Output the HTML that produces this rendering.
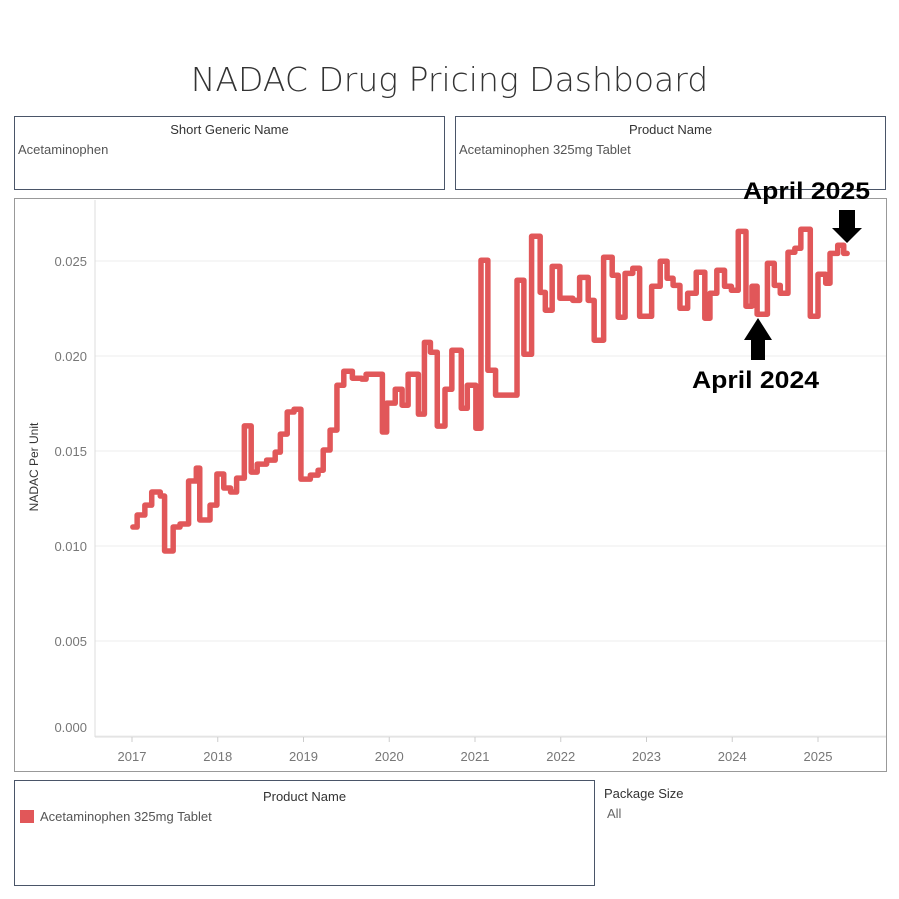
<!DOCTYPE html>
<html><head><meta charset="utf-8"><style>
body{margin:0;background:#fff;font-family:"Liberation Sans",sans-serif;}
.box{position:absolute;border:1px solid #4a5568;box-sizing:border-box;background:#fff}
.lbl{position:absolute;font-size:13px;color:#333}
</style></head><body>
<div style="position:relative;width:899px;height:899px;overflow:hidden">
<div style="position:absolute;left:0;width:899px;top:60px;text-align:center;font-size:33px;color:#333;font-family:'DejaVu Sans',sans-serif;font-weight:300;">NADAC Drug Pricing Dashboard</div>
<div class="box" style="left:14px;top:116px;width:431px;height:74px">
<div style="text-align:center;font-size:13px;color:#333;margin-top:5px">Short Generic Name</div>
<div style="font-size:13px;color:#555;margin:5px 0 0 3px">Acetaminophen</div></div>
<div class="box" style="left:455px;top:116px;width:431px;height:74px">
<div style="text-align:center;font-size:13px;color:#333;margin-top:5px">Product Name</div>
<div style="font-size:13px;color:#555;margin:5px 0 0 3px">Acetaminophen 325mg Tablet</div></div>
<div class="box" style="left:14px;top:198px;width:873px;height:574px;border-color:#999"></div>
<svg id="chart" width="899" height="899" style="position:absolute;left:0;top:0"></svg>
<div class="box" style="left:14px;top:780px;width:581px;height:106px">
<div style="text-align:center;font-size:13px;color:#333;margin-top:8px">Product Name</div>
<div style="position:absolute;left:5px;top:28px;font-size:13px;color:#555"><span style="display:inline-block;width:14px;height:13px;background:#e15759;vertical-align:-2px;margin-right:6px"></span>Acetaminophen 325mg Tablet</div></div>
<div class="lbl" style="left:604px;top:786px">Package Size</div>
<div class="lbl" style="left:607px;top:806px;color:#666">All</div>
</div>
<script>
const dates=[2017.01,2017.06,2017.15,2017.23,2017.33,2017.38,2017.48,2017.56,2017.66,2017.75,2017.79,2017.91,2017.99,2018.07,2018.15,2018.22,2018.31,2018.39,2018.46,2018.57,2018.67,2018.73,2018.81,2018.89,2018.97,2019.08,2019.17,2019.23,2019.31,2019.39,2019.47,2019.57,2019.68,2019.73,2019.92,2019.97,2020.07,2020.15,2020.22,2020.34,2020.41,2020.48,2020.56,2020.65,2020.73,2020.84,2020.91,2021.01,2021.07,2021.15,2021.24,2021.49,2021.57,2021.66,2021.76,2021.82,2021.90,2021.99,2022.14,2022.22,2022.32,2022.39,2022.50,2022.60,2022.67,2022.75,2022.84,2022.92,2023.06,2023.16,2023.24,2023.31,2023.39,2023.48,2023.58,2023.68,2023.74,2023.82,2023.91,2023.99,2024.07,2024.16,2024.23,2024.29,2024.41,2024.49,2024.56,2024.65,2024.73,2024.80,2024.91,2025.00,2025.09,2025.14,2025.23,2025.30,2025.34];
const values=[0.0110,0.01163,0.01215,0.01284,0.01263,0.00974,0.0110,0.01116,0.01342,0.0141,0.01137,0.01215,0.01379,0.01305,0.01284,0.01357,0.01632,0.01389,0.01431,0.01452,0.01494,0.01589,0.01705,0.0172,0.01352,0.01373,0.01399,0.01505,0.0161,0.01846,0.0192,0.01883,0.01878,0.01904,0.0160,0.01752,0.01825,0.01741,0.01904,0.01694,0.02072,0.0202,0.01631,0.01825,0.0203,0.01725,0.01846,0.0162,0.02504,0.01925,0.01794,0.02399,0.02009,0.0263,0.02335,0.02241,0.02472,0.02304,0.02293,0.02414,0.02293,0.02083,0.0252,0.02425,0.02204,0.02435,0.02462,0.02209,0.02367,0.02499,0.02409,0.02372,0.02251,0.0233,0.02441,0.02199,0.0233,0.02451,0.02367,0.02346,0.02656,0.02262,0.02367,0.0222,0.02488,0.02372,0.0233,0.02546,0.02567,0.02667,0.02209,0.0243,0.02383,0.0254,0.02583,0.0254,0.0254];
const yTicks=[0,0.005,0.010,0.015,0.020,0.025];
const yTickLabels=["0.000","0.005","0.010","0.015","0.020","0.025"];
const xTicks=[2017,2018,2019,2020,2021,2022,2023,2024,2025];
const NS="http://www.w3.org/2000/svg";
const svg=document.getElementById('chart');
const X=d=>132+(d-2017)*85.75;
const Y=v=>736-v/0.005*95;
function mk(t,a){const e=document.createElementNS(NS,t);for(const k in a)e.setAttribute(k,a[k]);svg.appendChild(e);return e;}
yTicks.forEach((t,i)=>{
 const g=mk('line',{x1:95,x2:886,y1:Y(t),y2:Y(t),stroke:'#ececec','stroke-width':1});
 
 
 const ty=i===0?Y(t)-4:Y(t)+5;
 const tx=mk('text',{x:87,y:ty,'text-anchor':'end','font-size':13,fill:'#777','font-family':'Liberation Sans, sans-serif'});
 tx.textContent=yTickLabels[i];
 
 
});
const ax=mk('line',{x1:95,x2:95,y1:200,y2:737,stroke:'#ddd'});


const xl=mk('line',{x1:95,x2:886,y1:737,y2:737,stroke:'#ddd'});


xTicks.forEach(t=>{
 const tk=mk('line',{x1:X(t),x2:X(t),y1:737,y2:742,stroke:'#ccc'});
 
 
 const tx=mk('text',{x:X(t),y:761,'text-anchor':'middle','font-size':13,fill:'#777','font-family':'Liberation Sans, sans-serif'});
 tx.textContent=t;
 
 
});
const yt=mk('text',{x:38,y:467,'text-anchor':'middle','font-size':12,fill:'#333',transform:'rotate(-90 38 467)','font-family':'Liberation Sans, sans-serif'});
yt.textContent='NADAC Per Unit';


let d='M'+X(dates[0])+' '+Y(values[0]);
for(let i=1;i<dates.length;i++){d+=' H'+X(dates[i])+' V'+Y(values[i]);}
const p=mk('path',{d:d,fill:'none',stroke:'#e15759','stroke-width':5.5,'stroke-linejoin':'round','stroke-linecap':'round'});


function ann(x,y,txt,name){const t=mk('text',{x:x,y:y,'font-size':24,'font-weight':'bold',fill:'#000','font-family':'Liberation Sans, sans-serif',textLength:127,lengthAdjust:'spacingAndGlyphs'});t.textContent=txt;}
ann(743,199,'April 2025','annotation-april-2025');
ann(692,388,'April 2024','annotation-april-2024');
const a1=mk('path',{d:'M839 210 H855 V228 H862 L847 243 L832 228 H839 Z',fill:'#000'});


const a2=mk('path',{d:'M751 360 H765 V340 H772 L758 318 L744 340 H751 Z',fill:'#000'});


</script>
</body></html>
